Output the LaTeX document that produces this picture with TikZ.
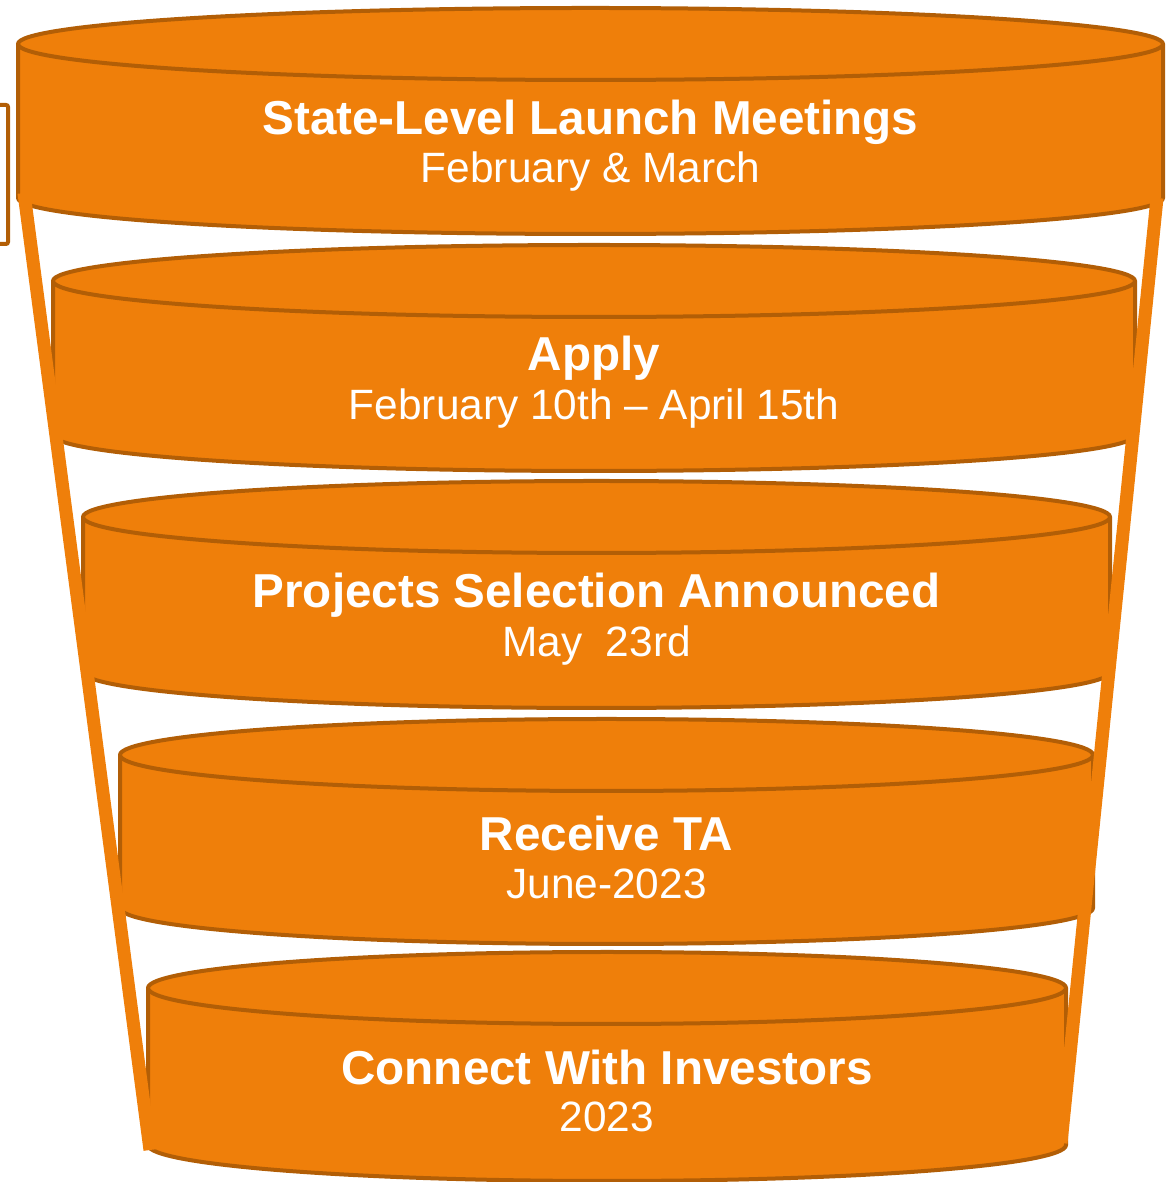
\documentclass[tikz,border=0pt]{standalone}
\usepackage{fontspec}
\setmainfont{Liberation Sans}
\definecolor{drumfill}{RGB}{239,127,10}
\definecolor{drumline}{RGB}{178,94,6}
% one drum: #1 left, #2 right, #3 top centre, #4 bottom centre
\newcommand{\drum}[4]{%
	\filldraw[drum] (#1,#3) -- (#1,#4)
		arc[start angle=180, end angle=360, x radius={(#2-#1)/2}, y radius=36]
		-- (#2,#3)
		arc[start angle=0, end angle=180, x radius={(#2-#1)/2}, y radius=36] -- cycle;
	\draw[drum] (#1,#3) arc[start angle=180, end angle=360, x radius={(#2-#1)/2}, y radius=36];
}

\begin{document}
\begin{tikzpicture}[x=0.5pt,y=0.5pt,
		drum/.style={fill=drumfill, draw=drumline, line width=2pt},
		heading/.style={text=white, inner sep=0pt, font=\fontsize{23.8}{28}\selectfont\bfseries},
		when/.style={text=white, inner sep=0pt, font=\fontsize{21.2}{25}\selectfont},
		funnel/.style={draw=drumfill, line width=6.5pt}]
		\useasboundingbox (0,0) rectangle (1166,1182);
		% bracket cut at the page edge
		\draw[drumline, line width=2pt, rounded corners=1pt] (-20,1077) rectangle (8,938);
		\drum{18}{1163}{1138}{984}
		\drum{53}{1135}{901}{747}
		\drum{83}{1110}{665}{510}
		\drum{120}{1093}{427}{274}
		\drum{148}{1066}{194}{37}
		\begin{scope}                           % funnel sides
			\coordinate (lefttop) at (24,989);
			\coordinate (leftbot) at (150,32);
			\coordinate (righttop) at (1157,984);
			\coordinate (rightbot) at (1061,39);
			\draw[funnel] (lefttop) -- (leftbot);
			\draw[funnel] (righttop) -- (rightbot);
		\end{scope}
		\node[heading] (stage1) at (590.5,1060) {State-Level Launch Meetings};
		\node[when] (date1) at (590.5,1010) {February \& March};
		\node[heading] (stage2) at (594,824) {Apply};
		\node[when] (date2) at (594,773) {February 10th -- April 15th};
		\node[heading] (stage3) at (596.5,587) {Projects Selection Announced};
		\node[when] (date3) at (596.5,536) {May~~23rd};
		\node[heading] (stage4) at (606.5,349) {Receive TA};
		\node[when] (date4) at (606.5,298) {June-2023};
		\node[heading] (stage5) at (607,115) {Connect With Investors};
		\node[when] (date5) at (607,65) {2023};
\end{tikzpicture}
\end{document}
